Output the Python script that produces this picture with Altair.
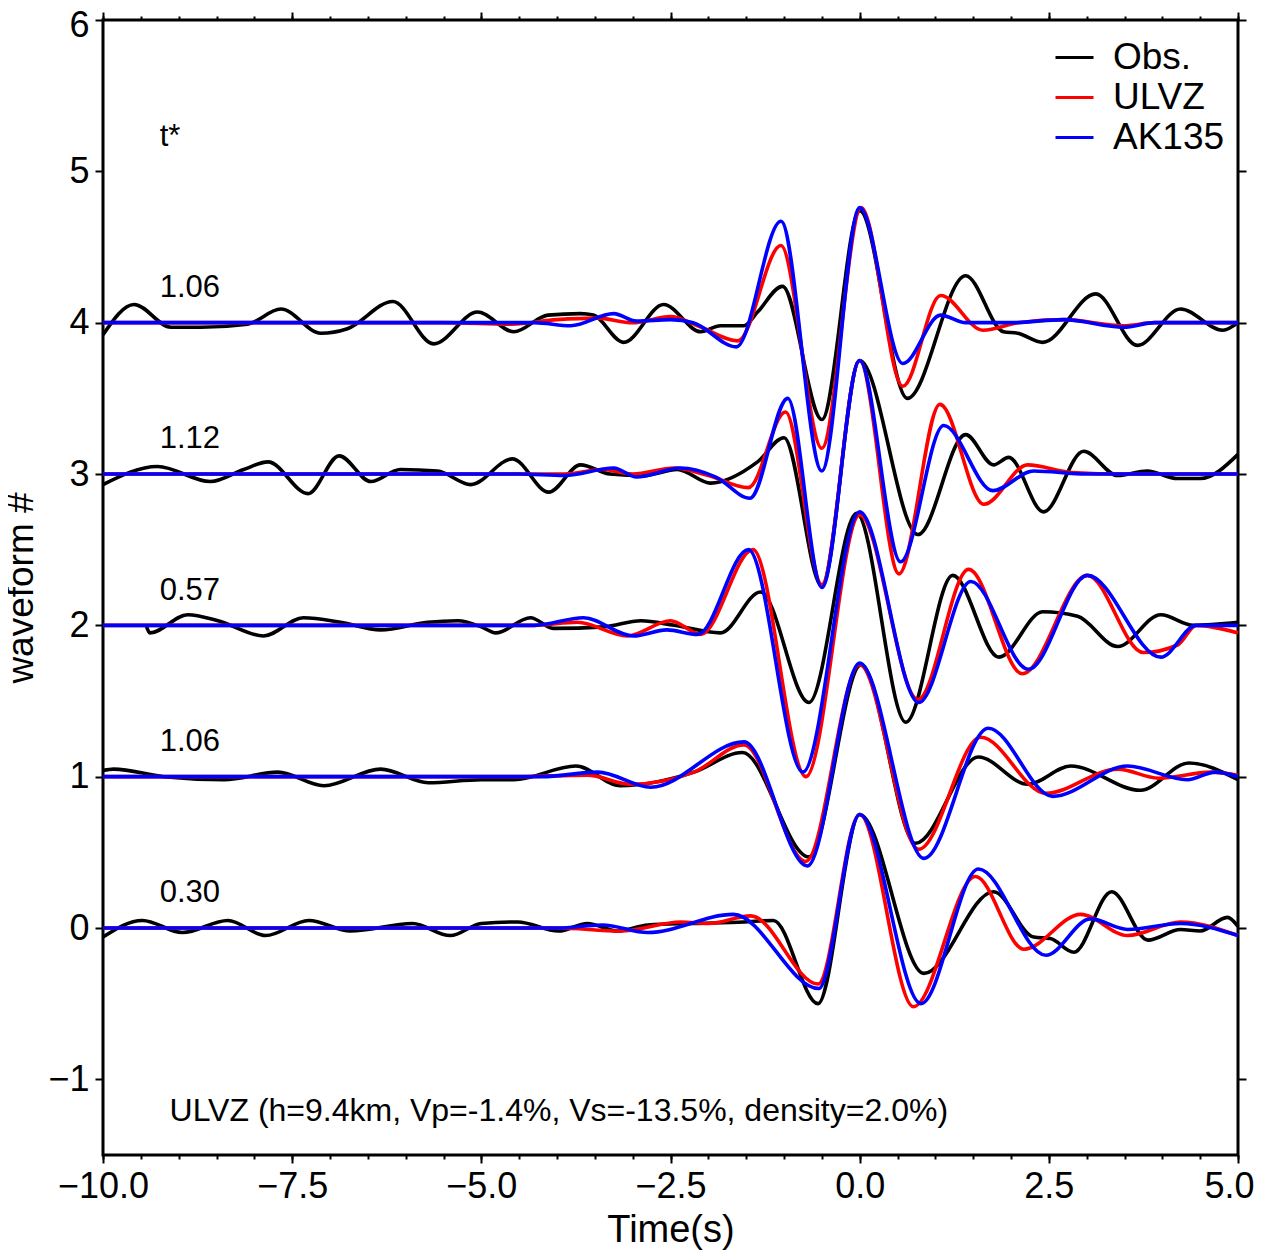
import altair as alt
import pandas as pd

# ---------------- data (time in s, amplitude relative to trace baseline) ----------------
# waveform 4
obs4_t = [-10, -9.59, -9.10, -8.71, -8.09, -7.65, -7.12, -6.77, -6.17, -5.63, -5.05, -4.57, -4.12, -3.69, -3.52,
          -3.12, -2.59, -2.10, -1.84, -1.53, -1.35, -1.02, -0.50, 0.0, 0.63, 1.40, 1.90, 2.09, 2.42, 3.12, 3.67,
          4.24, 4.80, 5.0]
obs4_v = [-0.08, 0.12, -0.03, -0.03, -0.01, 0.09, -0.07, -0.04, 0.14, -0.14, 0.07, -0.06, 0.05, 0.06, 0.05,
          -0.13, 0.12, -0.06, -0.02, -0.02, 0.07, 0.24, -0.64, 0.74, -0.50, 0.31, -0.06, -0.07, -0.13, 0.19, -0.15,
          0.09, -0.05, 0.0]
ulvz4_t = [-10, -5.5, -4.6, -4.0, -3.47, -3.0, -2.5, -2.14, -1.61, -1.04, -0.50, 0.02, 0.57, 1.07, 1.63, 2.1,
           2.7, 3.49, 3.9, 5.0]
ulvz4_v = [0, 0, -0.01, 0.02, 0.03, 0.0, 0.04, -0.02, -0.12, 0.51, -0.83, 0.76, -0.42, 0.18, -0.05, 0.0,
           0.02, -0.02, 0.0, 0.0]
ak4_t = [-10, -4.3, -3.82, -3.25, -2.95, -2.5, -2.2, -1.63, -1.04, -0.50, 0.0, 0.57, 1.07, 1.4, 2.0, 2.7,
         3.49, 3.9, 5.0]
ak4_v = [0, 0, -0.02, 0.06, 0.01, 0.02, 0.0, -0.16, 0.67, -0.98, 0.76, -0.27, 0.05, 0.0, 0.0, 0.02,
         -0.03, 0.0, 0.0]

# waveform 3
obs3_t = [-10, -9.28, -8.58, -8.14, -7.82, -7.29, -6.88, -6.46, -6.07, -5.58, -5.14, -4.59, -4.11, -3.69, -3.3,
          -2.85, -2.41, -1.97, -1.35, -1.00, -0.50, 0.0, 0.77, 1.40, 1.77, 1.97, 2.43, 2.96, 3.41, 3.8, 4.2,
          4.5, 5.0]
obs3_v = [-0.07, 0.05, -0.05, 0.03, 0.08, -0.13, 0.12, -0.05, 0.03, 0.02, -0.07, 0.10, -0.12, 0.06, 0.0,
          -0.01, 0.03, -0.06, 0.08, 0.24, -0.74, 0.75, -0.40, 0.26, 0.06, 0.11, -0.25, 0.15, -0.01, 0.02, -0.03,
          -0.03, 0.13]
ulvz3_t = [-10, -4.5, -3.9, -3.4, -3.0, -2.45, -2.0, -1.47, -0.98, -0.50, 0.0, 0.52, 1.06, 1.64, 2.22, 2.8,
           3.5, 5.0]
ulvz3_v = [0, 0, 0.0, 0.03, 0.0, 0.04, -0.01, -0.09, 0.41, -0.73, 0.75, -0.66, 0.46, -0.20, 0.06, 0.01,
           0.0, 0.0]
ak3_t = [-10, -4.5, -3.9, -3.25, -2.95, -2.37, -1.9, -1.45, -0.95, -0.50, 0.0, 0.54, 1.11, 1.76, 2.3, 3.0, 5.0]
ak3_v = [0, 0, -0.01, 0.04, -0.02, 0.04, -0.02, -0.16, 0.50, -0.75, 0.75, -0.58, 0.32, -0.11, 0.02, 0.0, 0.0]

# waveform 2
obs2_t = [-9.43, -9.38, -8.88, -8.48, -7.88, -7.35, -6.86, -6.33, -5.71, -5.31, -5.0, -4.81, -4.35, -4.05,
          -3.38, -2.89, -2.45, -1.84, -1.31, -0.67, -0.04, 0.61, 1.23, 1.84, 2.42, 2.88, 3.41, 3.98, 4.41, 5.0]
obs2_v = [0.0, -0.05, 0.07, 0.03, -0.07, 0.05, 0.02, -0.03, 0.02, 0.03, -0.01, -0.05, 0.05, -0.02,
          -0.01, 0.03, 0.0, -0.05, 0.22, -0.51, 0.74, -0.64, 0.33, -0.21, 0.09, 0.06, -0.14, 0.07, 0.0, 0.02]
ulvz2_t = [-10, -4.3, -3.73, -3.07, -2.50, -2.10, -1.41, -0.71, 0.0, 0.77, 1.44, 2.15, 3.01, 3.75, 4.2,
           4.45, 5.0]
ulvz2_v = [0, 0, 0.02, -0.07, 0.03, -0.06, 0.50, -1.00, 0.73, -0.49, 0.37, -0.32, 0.33, -0.18, -0.13,
           0.0, -0.05]
ak2_t = [-10, -4.3, -3.65, -2.99, -2.55, -2.14, -1.47, -0.75, 0.0, 0.78, 1.47, 2.23, 3.01, 3.98, 4.45, 5.0]
ak2_v = [0, 0, 0.05, -0.07, -0.03, -0.06, 0.50, -0.97, 0.75, -0.51, 0.29, -0.29, 0.33, -0.21, 0.0, 0.0]

# waveform 1
obs1_t = [-10, -9.86, -9.2, -8.40, -7.69, -7.08, -6.33, -5.70, -5.0, -4.57, -3.75, -3.16, -2.19, -1.55,
          -0.67, 0.02, 0.74, 1.57, 2.22, 2.79, 3.71, 4.35, 5.0]
obs1_v = [0.04, 0.05, 0.0, -0.02, 0.03, -0.06, 0.05, -0.04, -0.02, -0.02, 0.07, -0.06, 0.03, 0.16,
          -0.53, 0.74, -0.44, 0.13, -0.05, 0.07, -0.09, 0.09, -0.02]
ulvz1_t = [-10, -4.5, -3.6, -3.03, -2.19, -1.53, -0.71, 0.0, 0.78, 1.60, 2.46, 3.41, 3.95, 4.64, 5.0]
ulvz1_v = [0, 0, 0.01, -0.05, 0.03, 0.21, -0.56, 0.74, -0.48, 0.26, -0.11, 0.05, -0.01, 0.03, 0.01]
ak1_t = [-10, -4.2, -3.46, -2.76, -1.53, -0.69, 0.0, 0.85, 1.70, 2.55, 3.54, 4.33, 4.70, 5.0]
ak1_v = [0, 0, 0.03, -0.07, 0.23, -0.59, 0.75, -0.54, 0.32, -0.13, 0.07, -0.02, 0.03, 0.0]

# waveform 0
obs0_t = [-10, -9.48, -8.95, -8.35, -7.85, -7.28, -6.73, -5.91, -5.41, -5.0, -4.52, -3.98, -3.60, -3.2,
          -2.80, -2.2, -1.53, -1.14, -0.55, 0.0, 0.85, 1.77, 2.30, 2.52, 2.83, 3.33, 3.81, 4.24, 4.5, 4.86, 5.0]
obs0_v = [-0.06, 0.05, -0.03, 0.05, -0.05, 0.05, -0.02, 0.03, -0.05, 0.03, 0.04, -0.02, 0.03, -0.02,
          0.02, 0.03, 0.04, 0.05, -0.50, 0.75, -0.30, 0.24, -0.06, -0.07, -0.16, 0.24, -0.08, -0.01, -0.02,
          0.07, 0.01]
ulvz0_t = [-10, -5.0, -4.0, -3.16, -2.36, -2.0, -1.44, -0.55, 0.0, 0.71, 1.53, 2.17, 2.92, 3.54, 4.24, 5.0]
ulvz0_v = [0, 0, 0.0, -0.02, 0.04, 0.03, 0.08, -0.37, 0.75, -0.52, 0.34, -0.14, 0.09, -0.05, 0.04, -0.05]
ak0_t = [-10, -4.0, -3.4, -2.80, -1.67, -0.54, 0.0, 0.81, 1.57, 2.46, 3.05, 3.54, 4.24, 5.0]
ak0_v = [0, 0, 0.02, -0.03, 0.09, -0.40, 0.75, -0.50, 0.39, -0.18, 0.06, -0.01, 0.03, -0.05]

series_names = ["Obs.", "ULVZ", "AK135"]
series_colors = ["#000000", "#ff0000", "#0000ff"]
wave_ids = [4, 3, 2, 1, 0]
tstar_labels = ["1.06", "1.12", "0.57", "1.06", "0.30"]
x_ticks = [-10, -7.5, -5, -2.5, 0, 2.5, 5]
x_minor = [v / 2 for v in range(-20, 11)]
y_ticks = [-1, 0, 1, 2, 3, 4, 5, 6]
note = "ULVZ (h=9.4km, Vp=-1.4%, Vs=-13.5%, density=2.0%)"

traces = {
    ("Obs.", 4): (obs4_t, obs4_v), ("ULVZ", 4): (ulvz4_t, ulvz4_v), ("AK135", 4): (ak4_t, ak4_v),
    ("Obs.", 3): (obs3_t, obs3_v), ("ULVZ", 3): (ulvz3_t, ulvz3_v), ("AK135", 3): (ak3_t, ak3_v),
    ("Obs.", 2): (obs2_t, obs2_v), ("ULVZ", 2): (ulvz2_t, ulvz2_v), ("AK135", 2): (ak2_t, ak2_v),
    ("Obs.", 1): (obs1_t, obs1_v), ("ULVZ", 1): (ulvz1_t, ulvz1_v), ("AK135", 1): (ak1_t, ak1_v),
    ("Obs.", 0): (obs0_t, obs0_v), ("ULVZ", 0): (ulvz0_t, ulvz0_v), ("AK135", 0): (ak0_t, ak0_v),
}

rows = []
for (s, w), (ts, vs) in traces.items():
    for i, (t, v) in enumerate(zip(ts, vs)):
        rows.append({"series": s, "wave": w, "t": t, "y": w + v, "order": i})
df = pd.DataFrame(rows)

FONT = "Liberation Sans"
XS = alt.Scale(domain=[-10, 5], nice=False, zero=False)
YS = alt.Scale(domain=[-1.5, 6], nice=False, zero=False)
color = alt.Color(
    "series:N",
    scale=alt.Scale(domain=series_names, range=series_colors),
    legend=alt.Legend(
        title=None, orient="none", legendX=951, legendY=17, symbolType="stroke",
        symbolSize=1444, symbolStrokeWidth=3, labelFontSize=37, labelFont=FONT,
        labelColor="black", labelOffset=18, rowPadding=1, padding=0,
    ),
)


def trace_layer(name, show_axes):
    if show_axes:
        xa = alt.Axis(
            values=x_ticks, format=".1f", title="Time(s)", orient="bottom", labelFlush=False,
            titlePadding=7,
            labelAlign={"condition": {"test": "datum.value == 5", "value": "right"}, "value": "center"},
            labelOffset={"condition": {"test": "datum.value == 5", "value": 16}, "value": 0},
        )
        ya = alt.Axis(
            values=y_ticks, format="d", title="waveform #", orient="left", titlePadding=7,
            titleFontSize=37,
            labelOffset={"condition": {"test": "datum.value == 6", "value": 5}, "value": 0},
        )
    else:
        xa = None
        ya = None
    return alt.Chart(df).transform_filter(alt.datum.series == name).mark_line(
        strokeWidth=3.6, interpolate="monotone"
    ).encode(
        x=alt.X("t:Q", scale=XS, axis=xa),
        y=alt.Y("y:Q", scale=YS, axis=ya),
        color=color,
        detail="wave:N",
        order="order:Q",
    )


lab_df = pd.DataFrame({"t": [-9.25] * 6, "y": [5.23] + [w + 0.23 for w in wave_ids],
                       "label": ["t*"] + tstar_labels})
labels = alt.Chart(lab_df).mark_text(align="left", baseline="middle", fontSize=31, font=FONT,
                                     color="black").encode(
    x=alt.X("t:Q", scale=XS, axis=None), y=alt.Y("y:Q", scale=YS, axis=None), text="label:N")

note_df = pd.DataFrame({"t": [-9.12], "y": [-1.21], "label": [note]})
note_layer = alt.Chart(note_df).mark_text(align="left", baseline="middle", fontSize=32, font=FONT,
                                          color="black").encode(
    x=alt.X("t:Q", scale=XS, axis=None), y=alt.Y("y:Q", scale=YS, axis=None), text="label:N")

dummy = pd.DataFrame({"t": [-10, 5], "y": [-1.5, 6]})


def axis_layer(xaxis, yaxis):
    return alt.Chart(dummy).mark_point(opacity=0).encode(
        x=alt.X("t:Q", scale=XS, axis=xaxis), y=alt.Y("y:Q", scale=YS, axis=yaxis))


top_right = axis_layer(
    alt.Axis(values=x_ticks, orient="top", labels=False, title=None),
    alt.Axis(values=y_ticks, orient="right", labels=False, title=None))
minor_bottom = axis_layer(
    alt.Axis(values=x_minor, orient="bottom", labels=False, title=None, tickSize=4), None)
minor_top = axis_layer(
    alt.Axis(values=x_minor, orient="top", labels=False, title=None, tickSize=4), None)

chart = alt.layer(
    trace_layer("Obs.", True), trace_layer("ULVZ", False), trace_layer("AK135", False),
    labels, note_layer, top_right, minor_bottom, minor_top,
).resolve_axis(x="independent", y="independent").properties(
    width=1135, height=1135,
    autosize=alt.AutoSizeParams(type="none"),
    padding={"left": 95, "top": 12, "right": 16, "bottom": 96},
).configure_view(stroke="black", strokeWidth=3).configure_axis(
    domain=False, tickColor="black", tickWidth=2, tickSize=8, grid=False,
    labelFont=FONT, labelFontSize=36, labelColor="black", labelPadding=6,
    titleFont=FONT, titleFontSize=38, titleColor="black", titleFontWeight="normal",
)

chart.save("out.html", embed_options={"renderer": "svg", "actions": False})
